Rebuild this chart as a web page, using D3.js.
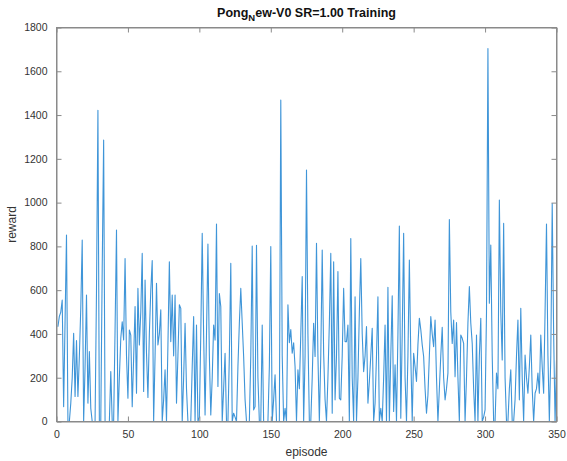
<!DOCTYPE html>
<html>
<head>
<meta charset="utf-8">
<script src="https://cdn.jsdelivr.net/npm/d3@7"></script>
<style>
  html, body { margin: 0; padding: 0; background: #ffffff; }
  svg { display: block; font-family: "Liberation Sans", Arial, Helvetica, sans-serif; }
</style>
</head>
<body>
<svg id="chart" width="567" height="461"></svg>
<script>
// ---- data ----
const titleMain = "Pong";
const titleSub = "N";
const titleRest = "ew-V0 SR=1.00 Training";
const xLabel = "episode";
const yLabel = "reward";
const xTicks = [0, 50, 100, 150, 200, 250, 300, 350];
const yTicks = [0, 200, 400, 600, 800, 1000, 1200, 1400, 1600, 1800];
const rewards = [
  433, 480, 500, 555, 68, 460, 852, 0, 0, 84,
  200, 403, 114, 370, 114, 297, 520, 829, 0, 250,
  578, 84, 320, 60, 0, 0, 0, 600, 1422, 0,
  0, 700, 1286, 0, 0, 0, 0, 228, 0, 0,
  420, 875, 0, 200, 380, 456, 373, 745, 300, 106,
  418, 395, 68, 290, 525, 129, 608, 350, 500, 768,
  137, 646, 312, 110, 400, 600, 735, 0, 300, 631,
  350, 400, 510, 0, 100, 236, 0, 350, 730, 365,
  578, 300, 578, 84, 300, 533, 517, 0, 200, 449,
  150, 0, 0, 0, 250, 479, 0, 441, 0, 20,
  400, 860, 395, 30, 400, 811, 300, 30, 200, 441,
  372, 902, 160, 585, 525, 0, 150, 312, 0, 0,
  300, 723, 0, 38, 20, 0, 250, 450, 608, 450,
  297, 100, 0, 0, 0, 300, 802, 53, 68, 805,
  200, 0, 0, 441, 0, 0, 0, 0, 250, 799,
  0, 100, 213, 0, 0, 0, 1468, 300, 0, 60,
  0, 533, 360, 420, 312, 360, 250, 0, 236, 150,
  400, 662, 0, 300, 1149, 400, 0, 0, 200, 449,
  297, 814, 300, 0, 300, 783, 312, 100, 0, 200,
  450, 768, 38, 730, 99, 300, 685, 106, 99, 300,
  608, 365, 365, 441, 0, 836, 200, 0, 570, 0,
  200, 500, 745, 400, 228, 300, 434, 84, 183, 300,
  426, 0, 84, 300, 570, 0, 60, 0, 200, 441,
  0, 613, 0, 300, 574, 46, 259, 0, 400, 893,
  15, 400, 860, 200, 0, 300, 738, 300, 0, 312,
  250, 183, 350, 472, 420, 350, 297, 150, 38, 120,
  300, 479, 400, 342, 464, 200, 0, 150, 300, 430,
  200, 99, 150, 221, 923, 500, 357, 464, 205, 452,
  200, 0, 395, 380, 357, 0, 200, 450, 616, 450,
  357, 150, 0, 395, 0, 300, 472, 0, 20, 53,
  500, 1704, 540, 806, 300, 0, 0, 221, 150, 1012,
  500, 281, 905, 200, 0, 0, 150, 236, 0, 0,
  100, 300, 464, 99, 517, 200, 0, 304, 200, 129,
  250, 395, 150, 0, 129, 150, 221, 129, 395, 250,
  129, 500, 902, 300, 0, 300, 996, 400, 0, 280
];
const episodes = rewards.map((_, i) => i + 1);

// ---- layout ----
const svg = d3.select("#chart");
const mLeft = 56.5, mRight = 556.5, mTop = 27.5, mBottom = 421.5;
const x = d3.scaleLinear().domain([0, 350]).range([mLeft, mRight]);
const y = d3.scaleLinear().domain([0, 1800]).range([mBottom, mTop]);
const axisColor = "#8a8a8a";
const textColor = "#333333";
const tickLen = 5;

// line
const line = d3.line()
  .x((d, i) => x(episodes[i]))
  .y(d => y(d));
svg.append("path")
  .datum(rewards)
  .attr("fill", "none")
  .attr("stroke", "#3f95d8")
  .attr("stroke-width", 1.1)
  .attr("stroke-linejoin", "round")
  .attr("d", line);

// axes (inward ticks, box)
const fmt = d3.format("d");
const gx = svg.append("g").attr("transform", `translate(0,${mBottom})`)
  .call(d3.axisBottom(x).tickValues(xTicks).tickFormat(fmt).tickSizeInner(-tickLen).tickSizeOuter(0).tickPadding(9));
const gxt = svg.append("g").attr("transform", `translate(0,${mTop})`)
  .call(d3.axisTop(x).tickValues(xTicks).tickSizeInner(-tickLen).tickSizeOuter(0).tickFormat(""));
const gy = svg.append("g").attr("transform", `translate(${mLeft},0)`)
  .call(d3.axisLeft(y).tickValues(yTicks).tickFormat(fmt).tickSizeInner(-tickLen).tickSizeOuter(0).tickPadding(9));
const gyr = svg.append("g").attr("transform", `translate(${mRight},0)`)
  .call(d3.axisRight(y).tickValues(yTicks).tickSizeInner(-tickLen).tickSizeOuter(0).tickFormat(""));

[gx, gxt, gy, gyr].forEach(g => {
  g.select(".domain").attr("stroke", axisColor).attr("stroke-width", 1);
  g.selectAll(".tick line").attr("stroke", axisColor).attr("stroke-width", 1);
  g.selectAll(".tick text").attr("fill", textColor).attr("font-size", 10.5)
    .attr("font-family", "'Liberation Sans', Arial, sans-serif");
});
// box edges
svg.append("rect").attr("x", mLeft).attr("y", mTop)
  .attr("width", mRight - mLeft).attr("height", mBottom - mTop)
  .attr("fill", "none").attr("stroke", axisColor).attr("stroke-width", 1);

// axis labels
svg.append("text").attr("x", (mLeft + mRight) / 2).attr("y", 456)
  .attr("text-anchor", "middle").attr("font-size", 12).attr("fill", textColor)
  .text(xLabel);
svg.append("text").attr("transform", `translate(16,${(mTop + mBottom) / 2}) rotate(-90)`)
  .attr("text-anchor", "middle").attr("font-size", 12).attr("fill", textColor)
  .text(yLabel);

// title
const t = svg.append("text").attr("x", (mLeft + mRight) / 2).attr("y", 17)
  .attr("text-anchor", "middle").attr("font-size", 12.5).attr("font-weight", "bold")
  .attr("fill", "#111111");
t.append("tspan").text(titleMain);
t.append("tspan").attr("dy", 4).attr("font-size", 9.5).text(titleSub);
t.append("tspan").attr("dy", -4).text(titleRest);
</script>
</body>
</html>
